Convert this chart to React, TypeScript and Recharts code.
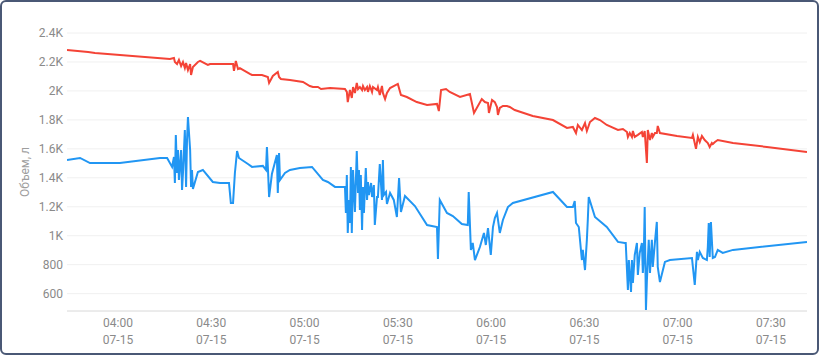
import React from "react";
import { LineChart, Line, XAxis, YAxis, CartesianGrid } from "recharts";

// time in minutes since 00:00 (07-15), value in litres
const redSeries: [number, number][] = [
  [223.6, 2283], [230.4, 2269], [232.6, 2262], [256.7, 2220], [258.0, 2227], [258.3, 2200],
  [259.0, 2186], [259.6, 2214], [260.3, 2172], [260.9, 2200], [261.5, 2158], [261.9, 2193],
  [262.5, 2144], [263.2, 2186], [263.5, 2110], [264.1, 2165], [265.7, 2200], [266.4, 2207],
  [268.9, 2179], [269.6, 2186], [272.8, 2186], [277.0, 2186], [277.3, 2138], [277.9, 2207],
  [278.6, 2151], [279.2, 2158], [282.4, 2117], [283.1, 2110], [286.3, 2110], [288.2, 2096],
  [288.6, 2055], [289.8, 2103], [291.4, 2131], [291.8, 2096], [292.4, 2082], [295.3, 2075],
  [299.5, 2062], [301.7, 2034], [302.7, 2027], [304.3, 2027], [305.3, 2013], [308.2, 2020],
  [313.0, 2013], [313.6, 1993], [313.9, 1923], [314.6, 2006], [315.2, 1951], [315.6, 2027],
  [316.2, 1986], [316.8, 2055], [317.2, 2013], [317.8, 2027], [318.5, 2006], [318.8, 2034],
  [319.4, 2006], [320.1, 2027], [320.4, 1993], [321.0, 2034], [321.7, 1993], [322.0, 2027],
  [323.3, 2006], [323.6, 2027], [324.2, 1972], [324.9, 2034], [325.2, 1986], [325.9, 1944],
  [326.5, 1986], [327.5, 2020], [330.0, 2048], [331.0, 1972], [332.9, 1958], [336.1, 1923],
  [339.4, 1903], [342.6, 1910], [343.2, 1861], [343.9, 2006], [345.5, 2013], [346.7, 1993],
  [350.0, 1958], [353.2, 1979], [354.5, 1848], [357.0, 1944], [358.0, 1923], [359.0, 1917],
  [359.3, 1848], [360.3, 1937], [361.2, 1923], [361.9, 1889], [362.2, 1834], [362.8, 1882],
  [363.8, 1896], [365.1, 1896], [366.0, 1889], [367.6, 1868], [373.4, 1827], [379.9, 1799],
  [384.4, 1744], [386.3, 1751], [387.3, 1709], [387.9, 1765], [389.2, 1730], [390.2, 1778],
  [390.8, 1723], [391.8, 1785], [393.4, 1813], [395.0, 1799], [397.2, 1765], [400.8, 1730],
  [402.4, 1737], [403.7, 1716], [404.0, 1682], [404.6, 1709], [405.3, 1682], [405.6, 1723],
  [406.2, 1682], [407.2, 1696], [408.5, 1716], [408.8, 1682], [409.4, 1723], [410.1, 1502],
  [410.4, 1730], [411.1, 1661], [411.7, 1709], [412.0, 1682], [412.7, 1709], [413.3, 1709],
  [413.6, 1758], [414.3, 1709], [419.8, 1689], [424.6, 1675], [424.9, 1696], [425.9, 1600],
  [426.5, 1682], [427.1, 1647], [427.8, 1689], [428.7, 1661], [429.7, 1640], [430.3, 1613],
  [431.0, 1640], [431.3, 1633], [432.0, 1647], [432.9, 1661], [437.8, 1640], [448.7, 1613],
  [461.6, 1578],
];

const blueSeries: [number, number][] = [
  [223.6, 1523], [227.8, 1537], [231.0, 1502], [240.6, 1502], [253.5, 1537], [255.8, 1537],
  [257.4, 1475], [258.0, 1544], [258.3, 1364], [258.6, 1696], [259.0, 1433], [259.3, 1592],
  [259.6, 1385], [260.3, 1592], [260.6, 1316], [260.9, 1433], [261.5, 1730], [261.9, 1337],
  [262.2, 1661], [262.5, 1820], [263.2, 1592], [263.5, 1337], [263.8, 1454], [264.1, 1323],
  [265.7, 1440], [267.3, 1454], [270.5, 1371], [272.8, 1364], [275.7, 1364], [276.3, 1226],
  [277.0, 1226], [277.6, 1433], [278.3, 1585], [278.9, 1537], [281.8, 1495], [283.1, 1475],
  [286.6, 1482], [287.6, 1454], [287.9, 1613], [288.2, 1475], [288.6, 1267], [289.5, 1426],
  [291.1, 1557], [291.4, 1295], [291.8, 1571], [292.1, 1385], [293.7, 1433], [295.3, 1454],
  [298.5, 1468], [302.4, 1475], [305.9, 1385], [307.5, 1371], [309.8, 1337], [313.0, 1337],
  [313.3, 1157], [313.6, 1419], [313.9, 1019], [314.3, 1247], [314.6, 1088], [314.9, 1475],
  [315.2, 1019], [315.6, 1454], [316.2, 1164], [316.8, 1585], [317.2, 1295], [317.5, 1454],
  [317.8, 1178], [318.1, 1419], [318.5, 1040], [318.8, 1337], [319.1, 1157], [319.7, 1468],
  [320.1, 1247], [320.4, 1371], [320.7, 1281], [321.4, 1364], [321.7, 1267], [322.3, 1350],
  [322.6, 1074], [323.3, 1267], [323.6, 1267], [324.2, 1495], [324.9, 1247], [325.2, 1523],
  [325.5, 1281], [326.2, 1302], [326.5, 1219], [327.5, 1295], [328.7, 1247], [329.7, 1129],
  [330.4, 1399], [331.0, 1164], [332.3, 1274], [335.5, 1205], [339.4, 1074], [342.6, 1060],
  [342.9, 839], [343.5, 1247], [345.8, 1157], [347.7, 1136], [350.6, 1081], [352.5, 1074],
  [352.8, 1302], [353.5, 902], [354.1, 950], [354.8, 832], [356.4, 922], [357.7, 1019],
  [358.3, 936], [359.0, 1053], [359.9, 867], [360.6, 1060], [361.2, 1122], [361.9, 1157],
  [362.8, 1019], [363.8, 1109], [365.4, 1198], [367.0, 1226], [379.9, 1302], [384.4, 1198],
  [386.3, 1198], [386.9, 1240], [387.3, 1088], [388.2, 1060], [389.2, 832], [389.5, 902],
  [390.2, 763], [390.8, 971], [391.1, 1109], [391.4, 1267], [392.4, 1198], [393.4, 1129],
  [397.2, 1060], [400.8, 957], [403.0, 950], [403.3, 950], [403.7, 763], [404.0, 625],
  [404.3, 832], [405.0, 611], [405.3, 832], [405.6, 674], [406.2, 867], [406.9, 950],
  [407.2, 729], [407.8, 881], [408.5, 950], [408.8, 743], [409.1, 853], [409.4, 1198],
  [409.8, 487], [410.1, 687], [410.7, 971], [411.1, 743], [411.7, 971], [412.0, 784],
  [412.7, 957], [413.3, 1095], [413.6, 784], [414.3, 680], [415.9, 819], [417.5, 832],
  [424.6, 846], [425.5, 660], [426.2, 888], [426.5, 832], [427.1, 888], [428.1, 846],
  [429.4, 832], [429.7, 922], [430.0, 1088], [430.3, 853], [430.7, 1095], [431.3, 846],
  [432.0, 853], [432.9, 902], [434.5, 881], [437.8, 902], [461.6, 957],
];

const xTicks = [240, 270, 300, 330, 360, 390, 420, 450];
const dateLabel = "07-15";
const yTicks = [600, 800, 1000, 1200, 1400, 1600, 1800, 2000, 2200, 2400];
const xDomain: [number, number] = [223.6, 461.6];
const yDomain: [number, number] = [480, 2400];
const yAxisTitle = "Объем, л";

const redData = redSeries.map(([t, v]) => ({ t, v }));
const blueData = blueSeries.map(([t, v]) => ({ t, v }));

const FONT = "Roboto, sans-serif";
const TEXT = "#8a8a8a";

const fmtY = (v: number) => (v >= 1000 ? `${+(v / 1000).toFixed(1)}K` : `${v}`);
const fmtTime = (m: number) => {
  const h = Math.floor(m / 60);
  const mm = Math.round(m - h * 60);
  return `${String(h).padStart(2, "0")}:${String(mm).padStart(2, "0")}`;
};

const XTick = (props: any) => {
  const { x, y, payload } = props;
  return (
    <text x={x} y={y} textAnchor="middle" fill={TEXT} fontSize={12} fontFamily={FONT}>
      <tspan x={x} dy={16}>{fmtTime(payload.value)}</tspan>
      <tspan x={x} dy={16.5}>{dateLabel}</tspan>
    </text>
  );
};

const YTitle = (props: any) => {
  const vb = props.viewBox || { x: 0, y: 33, width: 67, height: 278 };
  const cx = vb.x + 25;
  const cy = vb.y + vb.height / 2;
  return (
    <text
      x={cx}
      y={cy}
      transform={`rotate(-90 ${cx} ${cy})`}
      textAnchor="middle"
      dominantBaseline="central"
      fill="#9e9e9e"
      fontSize={12}
      fontFamily={FONT}
    >
      {yAxisTitle}
    </text>
  );
};

export default function App() {
  return (
    <div style={{ position: "absolute", left: 0, top: 0, width: 819, height: 355, background: "#fff" }}>
      <LineChart
        width={819}
        height={355}
        margin={{ top: 33, right: 12, bottom: 0, left: 0 }}
        style={{ fontFamily: FONT }}
      >
        <CartesianGrid vertical={false} stroke="#f0f0f0" />
        <XAxis
          dataKey="t"
          type="number"
          domain={xDomain}
          ticks={xTicks}
          allowDataOverflow
          height={44}
          tick={<XTick />}
          tickLine={false}
          tickSize={0}
          tickMargin={0}
          axisLine={{ stroke: "#e0e0e0" }}
          interval={0}
        />
        <YAxis
          type="number"
          domain={yDomain}
          ticks={yTicks}
          allowDataOverflow
          width={67}
          tickFormatter={fmtY}
          tick={{ fill: TEXT, fontSize: 12, fontFamily: FONT }}
          tickLine={false}
          axisLine={false}
          tickSize={0}
          tickMargin={4}
          interval={0}
          label={<YTitle />}
        />
        <Line data={redData} dataKey="v" type="linear" stroke="#f44336" strokeWidth={2} dot={false} activeDot={false} isAnimationActive={false} />
        <Line data={blueData} dataKey="v" type="linear" stroke="#2196f3" strokeWidth={2} dot={false} activeDot={false} isAnimationActive={false} />
      </LineChart>
      <div
        style={{
          position: "absolute",
          left: 0,
          top: 0,
          width: 819,
          height: 355,
          boxSizing: "border-box",
          border: "2px solid #4a5875",
          borderRadius: 6,
          pointerEvents: "none",
        }}
      />
    </div>
  );
}
